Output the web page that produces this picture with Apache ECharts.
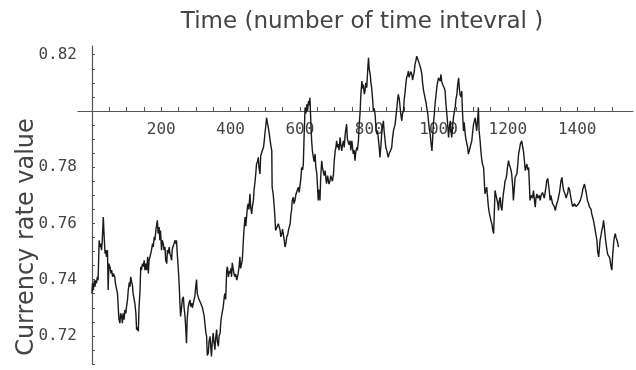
<!DOCTYPE html>
<html>
<head>
<meta charset="utf-8">
<script src="https://cdn.jsdelivr.net/npm/echarts@6/dist/echarts.min.js"></script>
<style>html,body{margin:0;padding:0;background:#fff}#c{width:636px;height:370px}</style>
</head>
<body>
<div id="c"></div>
<script>
// ---- data (time index, currency rate) ----
const rateSeries = [
[0,0.7351],[2,0.7387],[4,0.7363],[7,0.7398],[9,0.7375],[11,0.7398],[13,0.7387],[16,0.7410],[18,0.7398],[21,0.7540],[23,0.7516],[25,0.7528],[28,0.7505],[30,0.7540],[33,0.7623],[35,0.7564],[38,0.7493],[40,0.7505],[42,0.7481],[45,0.7505],[47,0.7363],[49,0.7457],[52,0.7446],[55,0.7422],[57,0.7434],[60,0.7410],[62,0.7422],[66,0.7410],[68,0.7387],[71,0.7387],[74,0.7350],[76,0.7304],[78,0.7260],[81,0.7245],[83,0.7280],[86,0.7269],[88,0.7245],[90,0.7280],[93,0.7258],[95,0.7292],[98,0.7280],[100,0.7304],[103,0.7330],[105,0.7363],[108,0.7390],[110,0.7375],[112,0.7410],[115,0.7416],[117,0.7380],[119,0.7351],[122,0.7330],[124,0.7316],[127,0.7280],[129,0.7222],[131,0.7230],[134,0.7216],[136,0.7300],[139,0.7363],[141,0.7446],[143,0.7434],[146,0.7457],[148,0.7446],[151,0.7469],[153,0.7434],[156,0.7457],[158,0.7434],[161,0.7481],[163,0.7422],[165,0.7469],[167,0.7469],[170,0.7493],[172,0.7505],[175,0.7528],[177,0.7516],[180,0.7552],[182,0.7540],[185,0.7580],[187,0.7587],[189,0.7611],[191,0.7564],[194,0.7587],[196,0.7540],[198,0.7575],[201,0.7505],[203,0.7540],[206,0.7528],[208,0.7505],[211,0.7516],[213,0.7469],[216,0.7457],[218,0.7505],[220,0.7493],[223,0.7516],[225,0.7493],[228,0.7481],[230,0.7469],[232,0.7510],[235,0.7516],[237,0.7528],[240,0.7540],[242,0.7528],[244,0.7540],[247,0.7481],[249,0.7446],[252,0.7380],[254,0.7316],[256,0.7269],[259,0.7304],[261,0.7330],[264,0.7339],[266,0.7300],[268,0.7280],[270,0.7245],[273,0.7174],[275,0.7260],[278,0.7304],[280,0.7316],[283,0.7328],[285,0.7304],[288,0.7316],[290,0.7300],[293,0.7304],[295,0.7330],[297,0.7339],[300,0.7380],[302,0.7400],[304,0.7351],[307,0.7351],[309,0.7330],[312,0.7328],[314,0.7316],[317,0.7316],[319,0.7300],[321,0.7304],[324,0.7270],[326,0.7245],[329,0.7210],[331,0.7198],[333,0.7130],[336,0.7139],[338,0.7180],[341,0.7198],[343,0.7160],[345,0.7127],[347,0.7170],[350,0.7210],[352,0.7180],[355,0.7151],[357,0.7190],[360,0.7222],[362,0.7180],[365,0.7163],[367,0.7200],[370,0.7210],[372,0.7250],[374,0.7269],[377,0.7290],[379,0.7304],[382,0.7340],[384,0.7351],[386,0.7330],[389,0.7434],[391,0.7446],[394,0.7410],[396,0.7430],[398,0.7422],[401,0.7440],[403,0.7410],[405,0.7460],[408,0.7457],[410,0.7420],[413,0.7410],[415,0.7420],[418,0.7398],[420,0.7410],[422,0.7422],[425,0.7450],[427,0.7481],[429,0.7440],[432,0.7457],[434,0.7470],[437,0.7540],[439,0.7580],[442,0.7623],[444,0.7590],[447,0.7634],[449,0.7660],[451,0.7670],[453,0.7650],[456,0.7705],[458,0.7660],[461,0.7634],[463,0.7660],[466,0.7682],[468,0.7720],[471,0.7752],[473,0.7780],[475,0.7811],[478,0.7820],[480,0.7835],[482,0.7800],[485,0.7776],[487,0.7840],[490,0.7847],[492,0.7860],[495,0.7870],[497,0.7890],[499,0.7917],[502,0.7950],[504,0.7976],[506,0.7960],[509,0.7941],[511,0.7925],[514,0.7929],[516,0.7880],[519,0.7858],[520,0.7729],[523,0.7705],[526,0.7660],[528,0.7623],[530,0.7575],[533,0.7575],[535,0.7590],[538,0.7599],
[543,0.7575],[545,0.7552],[548,0.7564],[550,0.7580],[552,0.7564],[555,0.7540],[557,0.7516],[560,0.7530],[562,0.7552],[565,0.7560],[567,0.7575],[570,0.7590],[572,0.7599],[574,0.7630],[576,0.7646],[578,0.7682],[581,0.7693],[583,0.7670],[586,0.7682],[588,0.7700],[591,0.7705],[593,0.7720],[596,0.7729],[598,0.7710],[600,0.7717],[603,0.7760],[605,0.7799],[608,0.7790],[610,0.7811],[612,0.7900],[615,0.8012],[617,0.7990],[620,0.8024],[622,0.8000],[625,0.8035],[627,0.8020],[629,0.8047],[632,0.7950],[634,0.7894],[636,0.7860],[639,0.7835],[641,0.7820],[644,0.7847],[646,0.7800],[649,0.7776],[651,0.7730],[653,0.7682],[656,0.7720],[658,0.7682],[660,0.7760],[663,0.7823],[665,0.7800],[668,0.7799],[670,0.7770],[673,0.7788],[675,0.7760],[677,0.7741],[680,0.7770],[682,0.7764],[684,0.7740],[687,0.7752],[689,0.7770],[692,0.7776],[694,0.7750],[697,0.7776],[699,0.7820],[702,0.7858],[704,0.7870],[706,0.7894],[709,0.7870],[711,0.7882],[713,0.7860],[716,0.7906],[718,0.7880],[721,0.7858],[723,0.7880],[726,0.7894],[728,0.7870],[730,0.7906],[732,0.7930],[735,0.7953],[737,0.7900],[740,0.7906],[742,0.7880],[745,0.7894],[747,0.7860],[750,0.7894],[752,0.7870],[754,0.7847],[757,0.7860],[759,0.7823],[761,0.7850],[764,0.7870],[766,0.7860],[769,0.7894],[771,0.7950],[774,0.8000],[776,0.8060],[779,0.8106],[781,0.8080],[783,0.8094],[786,0.8060],[788,0.8071],[790,0.8100],[793,0.8083],[795,0.8130],[798,0.8189],[800,0.8150],[803,0.8130],[805,0.8100],[807,0.8083],[810,0.8040],[812,0.8000],[814,0.8010],[817,0.7988],[819,0.7950],[822,0.7917],[824,0.7930],[827,0.7894],[829,0.7870],[831,0.7835],[834,0.7880],[836,0.7917],[838,0.7940],[841,0.7965],[843,0.7930],[846,0.7894],[848,0.7870],[851,0.7858],[853,0.7845],[855,0.7835],[858,0.7850],[860,0.7847],[862,0.7860],[865,0.7870],[867,0.7900],[870,0.7929],[872,0.7940],[875,0.7953],[877,0.7980],[880,0.8012],[882,0.8040],[884,0.8059],[887,0.8040],[889,0.8035],[891,0.7990],[894,0.7965],[896,0.7990],[899,0.8000],[901,0.8040],[904,0.8071],[906,0.8100],[908,0.8118],[911,0.8130],[913,0.8142],[915,0.8120],[918,0.8118],[920,0.8140],[923,0.8130],[925,0.8110],[928,0.8106],[930,0.8140],[932,0.8165],[935,0.8180],[937,0.8195],[940,0.8185],[942,0.8183],[944,0.8170],[947,0.8165],[949,0.8150],[952,0.8130],[954,0.8100],[957,0.8071],[959,0.8060],[961,0.8047],[964,0.8030],[966,0.8012],[969,0.7990],[971,0.7965],[973,0.7940],[976,0.7917],[978,0.7890],[981,0.7858],[983,0.7900],[985,0.7953],[988,0.7990],[990,0.8024],[993,0.8060],[995,0.8083],[997,0.8100],[1000,0.8118],
[1005,0.8106],[1007,0.8130],[1009,0.8106],[1012,0.8094],[1014,0.8094],[1017,0.8080],[1019,0.8071],[1021,0.8030],[1024,0.7988],[1026,0.7960],[1029,0.7906],[1031,0.7940],[1034,0.7965],[1036,0.7930],[1038,0.7906],[1041,0.7950],[1043,0.7976],[1046,0.8000],[1048,0.8012],[1050,0.8040],[1053,0.8059],[1055,0.8090],[1058,0.8118],[1060,0.8080],[1062,0.8059],[1065,0.8050],[1067,0.8071],[1069,0.8000],[1072,0.7929],[1074,0.7960],[1077,0.7917],[1079,0.7900],[1082,0.7894],[1084,0.7870],[1086,0.7847],[1089,0.7860],[1091,0.7870],[1093,0.7880],[1096,0.7894],[1098,0.7920],[1101,0.7953],[1103,0.7960],[1106,0.7976],[1108,0.7950],[1110,0.7929],[1113,0.7970],[1115,0.8012],[1117,0.7930],[1120,0.7894],[1122,0.7860],[1125,0.7823],[1127,0.7810],[1130,0.7799],[1132,0.7750],[1134,0.7705],[1137,0.7720],[1139,0.7729],[1141,0.7700],[1144,0.7658],[1146,0.7640],[1149,0.7623],[1151,0.7610],[1154,0.7599],[1156,0.7580],[1159,0.7564],[1161,0.7640],[1163,0.7717],[1166,0.7700],[1168,0.7705],[1171,0.7670],[1173,0.7646],[1175,0.7680],[1178,0.7693],[1180,0.7660],[1183,0.7646],[1185,0.7680],[1187,0.7705],[1190,0.7730],[1192,0.7752],[1195,0.7760],[1197,0.7776],[1199,0.7800],[1202,0.7823],[1204,0.7810],[1207,0.7811],[1209,0.7790],[1211,0.7776],[1214,0.7730],[1216,0.7682],[1219,0.7730],[1221,0.7764],[1224,0.7770],[1226,0.7776],[1228,0.7800],[1231,0.7847],[1233,0.7860],[1236,0.7882],[1238,0.7880],[1240,0.7894],[1243,0.7870],[1245,0.7858],[1248,0.7820],[1250,0.7788],[1252,0.7800],[1255,0.7811],[1257,0.7790],[1260,0.7799],[1262,0.7740],[1264,0.7682],[1267,0.7700],[1269,0.7705],[1271,0.7690],[1274,0.7717],[1276,0.7690],[1279,0.7658],[1281,0.7690],[1284,0.7705],[1286,0.7690],[1288,0.7693],[1291,0.7700],[1293,0.7682],[1296,0.7700],[1298,0.7693],[1300,0.7710],[1303,0.7705],[1305,0.7690],[1308,0.7693],[1310,0.7730],[1312,0.7752],[1315,0.7760],[1317,0.7741],[1320,0.7710],[1322,0.7682],[1324,0.7700],[1327,0.7682],[1329,0.7670],[1332,0.7670],[1334,0.7660],[1337,0.7646],[1339,0.7660],[1341,0.7670],[1344,0.7680],[1346,0.7693],[1349,0.7710],[1351,0.7729],[1353,0.7750],[1356,0.7764],[1358,0.7740],[1361,0.7717],[1363,0.7710],[1365,0.7705],[1368,0.7690],[1370,0.7693],[1373,0.7710],[1375,0.7729],[1378,0.7720],[1380,0.7717],[1382,0.7690],[1385,0.7670],[1387,0.7660],[1390,0.7658],[1392,0.7670],[1394,0.7670],[1397,0.7660],[1399,0.7658],[1401,0.7665],[1404,0.7670],[1406,0.7675],[1409,0.7682],[1411,0.7690],[1414,0.7705],[1416,0.7720],[1418,0.7729],[1421,0.7740],[1423,0.7735],[1426,0.7710],[1428,0.7693],[1430,0.7680],[1433,0.7670],[1435,0.7660],[1438,0.7658],[1440,0.7650],[1442,0.7634],[1445,0.7620],[1447,0.7611],[1450,0.7590],[1452,0.7575],[1454,0.7560],[1457,0.7540],[1459,0.7500],[1462,0.7481],[1464,0.7510],[1466,0.7540],[1469,0.7560],[1471,0.7575],[1474,0.7590],[1476,0.7611],[1478,0.7590],[1481,0.7552],[1483,0.7530],[1486,0.7505],[1488,0.7490],[1490,0.7493],[1493,0.7480],[1495,0.7469],[1497,0.7450],[1500,0.7434],[1502,0.7480],[1505,0.7528],[1507,0.7550],[1510,0.7564],[1512,0.7550],[1515,0.7540],[1517,0.7530],[1519,0.7516]
];
const xTickLabels = [200, 400, 600, 800, 1000, 1200, 1400];
const yTickLabels = [0.72, 0.74, 0.76, 0.78, 0.82];
const xMinorTicks = [];
for (let t = 50; t <= 1500; t += 50) xMinorTicks.push(t);
const yMinorTicks = [];
for (let k = 0; k <= 22; k++) yMinorTicks.push(+(0.71 + k * 0.005).toFixed(3));
const xTitle = 'Time (number of time intevral )';
const yTitle = 'Currency rate value';

// ---- chart ----
const chart = echarts.init(document.getElementById('c'), null, {renderer: 'canvas'});
const axisColor = '#555';
const labelFont = {fontFamily: 'DejaVu Sans Mono', fontSize: 16, color: '#444'};
chart.setOption({
  animation: false,
  backgroundColor: '#fff',
  grid: {left: 78, right: 3, top: 46, bottom: 6},
  xAxis: {
    type: 'value', min: -40, max: 1561, position: 'top', offset: -65,
    axisLine: {show: true, lineStyle: {color: axisColor, width: 1.2}},
    axisTick: {show: true, inside: false, length: 4, customValues: xMinorTicks, lineStyle: {color: axisColor}},
    axisLabel: Object.assign({show: true, inside: true, margin: 11, customValues: xTickLabels,
      formatter: v => String(Math.round(v))}, labelFont),
    splitLine: {show: false}
  },
  yAxis: {
    type: 'value', min: 0.71, max: 0.8231, position: 'left', offset: -14,
    axisLine: {show: true, lineStyle: {color: axisColor, width: 1.2}},
    axisTick: {show: true, inside: true, length: 3, customValues: yMinorTicks, lineStyle: {color: axisColor}},
    axisLabel: Object.assign({show: true, margin: 15, customValues: yTickLabels,
      formatter: v => v.toFixed(2)}, labelFont),
    splitLine: {show: false}
  },
  graphic: [
    {type: 'text', x: 362, y: 22, style: {text: xTitle, fontFamily: 'DejaVu Sans', fontSize: 23, fill: '#444', align: 'center', verticalAlign: 'middle'}},
    {type: 'text', x: 27, y: 237, rotation: Math.PI / 2, style: {text: yTitle, fontFamily: 'DejaVu Sans', fontSize: 24, fill: '#444', align: 'center', verticalAlign: 'middle'}}
  ],
  series: [{
    type: 'line', data: rateSeries, showSymbol: false, symbol: 'none',
    lineStyle: {color: '#1a1a1a', width: 1.4}, clip: false
  }]
});
</script>
</body>
</html>
